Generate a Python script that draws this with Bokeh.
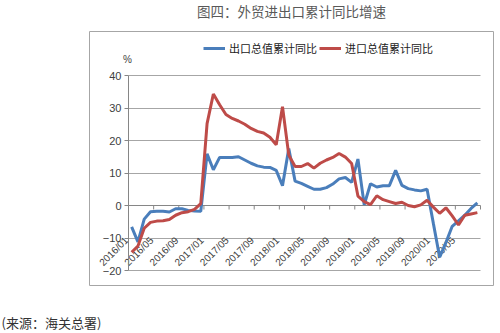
import math
from bokeh.plotting import figure
from bokeh.models import Range1d, FixedTicker, Legend, LegendItem, Title, Grid
from bokeh.embed import file_html
from bokeh.resources import INLINE
from bokeh.core.properties import value

# ---------------- data ----------------
years = ["2016", "2017", "2018", "2019", "2020"]
months = [f"{y}/{m:02d}" for y in years for m in range(1, 13)][:56]   # 2016/01 .. 2020/08

exports = [  # 出口总值累计同比 (%)
    -6.6, -11.2, -4.2, -1.9, -1.8, -1.8, -2.0, -1.0, -1.0, -1.5, -1.7, -1.8,
    15.9, 11.0, 14.8, 14.8, 14.8, 15.0, 14.0, 13.0, 12.2, 11.8, 11.7, 10.8,
    6.1, 17.5, 7.5, 6.8, 5.9, 5.0, 5.0, 5.5, 6.6, 8.2, 8.6, 7.1,
    14.3, 0.2, 6.7, 5.7, 6.1, 6.1, 10.8, 6.2, 5.2, 4.8, 4.5, 5.0,
    -5.5, -15.9, -11.4, -6.4, -4.7, -3.0, -0.9, 0.8,
]
imports = [  # 进口总值累计同比 (%)
    -14.4, -12.5, -7.0, -5.2, -4.8, -4.7, -4.3, -3.0, -2.2, -1.9, -1.2, 0.6,
    25.2, 34.3, 31.0, 28.0, 26.8, 26.0, 25.0, 23.7, 22.8, 22.3, 21.0, 18.7,
    30.4, 15.5, 12.0, 12.0, 12.9, 11.5, 13.0, 14.0, 14.8, 16.0, 14.9, 12.9,
    2.9, 1.2, 0.3, 3.0, 1.8, 1.2, 0.6, 1.0, 0.0, -0.4, 0.2, 1.6,
    -0.5, -2.4, -0.7, -3.2, -6.0, -3.0, -2.6, -2.2,
]
y_ticks = [-20, -10, 0, 10, 20, 30, 40]
label_step = 4

title_text = "图四：外贸进出口累计同比增速"
source_text = "(来源：海关总署)"
series_names = ["出口总值累计同比", "进口总值累计同比"]

# ---------------- layout (pixels) ----------------
W, H = 500, 333
BL, BR, BT, BB = 89, 493, 31, 285   # chart-area box = Bokeh frame
PL, PR = 128, 480                   # plot area left / right
P40, PM20 = 75, 270                 # pixel rows of y=40 and y=-20
N = len(months)
YMIN, YMAX = y_ticks[0], y_ticks[-1]
GRID = "#a6a6a6"
AXIS = "#868686"


def dx(px):
    return (px - PL) / (PR - PL) * N - 0.5


def dy(py):
    return YMAX - (py - P40) / (PM20 - P40) * (YMAX - YMIN)


idx = list(range(N))
X0, X1 = -0.5, N - 0.5

p = figure(width=W, height=H, output_backend="svg", toolbar_location=None,
           x_axis_location=None, y_axis_location="left",
           x_range=Range1d(dx(BL), dx(BR)), y_range=Range1d(dy(BB), dy(BT)),
           min_border_left=BL, min_border_right=W - BR,
           min_border_top=BT, min_border_bottom=H - BB,
           background_fill_color="white", border_fill_color="white",
           outline_line_color=GRID, outline_line_width=1)

# y axis, drawn at the plot-area's left edge
ax = p.yaxis[0]
ax.fixed_location = X0
ax.ticker = FixedTicker(ticks=y_ticks)
ax.bounds = (YMIN, YMAX)
ax.axis_line_color = AXIS
ax.major_tick_line_color = AXIS
ax.major_tick_out = 4
ax.major_tick_in = 0
ax.minor_tick_line_color = None
ax.major_label_standoff = 3
ax.major_label_text_font = "Liberation Sans"
ax.major_label_text_font_size = "11px"
ax.major_label_text_color = "#404040"

p.ygrid.ticker = FixedTicker(ticks=[t for t in y_ticks if t != 0])
p.ygrid.cross_bounds = (X0, X1)
p.ygrid.grid_line_color = GRID
p.xgrid.visible = False

# horizontal category axis line at y = 0
zero = Grid(dimension=1, ticker=FixedTicker(ticks=[0]), cross_bounds=(X0, X1),
            grid_line_color=AXIS, grid_line_width=1)
p.add_layout(zero)

# category tick marks on the zero line
bounds = [k - 0.5 for k in range(0, N + 1, label_step)]
tick_len = 4 / (PM20 - P40) * (YMAX - YMIN)
p.segment(x0=bounds, y0=[0] * len(bounds), x1=bounds, y1=[-tick_len] * len(bounds),
          line_color=AXIS, line_width=1)

# category labels (rotated, hanging below zero line)
lab_idx = list(range(0, N, label_step))
lab_x = [k - 0.5 - 2.0 / (PR - PL) * N for k in lab_idx]
p.text(x=lab_x, y=[dy(238)] * len(lab_idx), text=[months[k] for k in lab_idx],
       angle=math.pi / 4, text_align="right", text_baseline="middle",
       text_font=value("Liberation Sans"), text_font_size="10px", text_color="#404040")

# "%" unit label
p.text(x=[dx(127)], y=[dy(59)], text=["%"], text_align="center", text_baseline="middle",
       text_font=value("Liberation Sans"), text_font_size="10px", text_color="#404040")

# series
rb = p.line(idx, exports, line_color="#4a7ebb", line_width=3)
rr = p.line(idx, imports, line_color="#be4b48", line_width=3)

legend = Legend(items=[LegendItem(label=series_names[0], renderers=[rb]),
                       LegendItem(label=series_names[1], renderers=[rr])],
                orientation="horizontal", location=(203 - BL, BB - 56),
                label_text_font="Noto Sans CJK SC", label_text_font_size="11px",
                label_text_color="#222222", glyph_width=22, glyph_height=16,
                label_standoff=4, spacing=2, padding=0, margin=0,
                border_line_color=None, background_fill_alpha=0)
p.add_layout(legend, "center")

p.title.text = title_text
p.title.align = "center"
p.title.vertical_align = "top"
p.title.offset = 307 - (BL + BR) / 2
p.title.standoff = 0
p.title.text_font = "Noto Sans CJK SC"
p.title.text_font_size = "13.5px"
p.title.text_font_style = "normal"
p.title.text_color = "#595959"

# small spacer between the chart box and the title
p.add_layout(Title(text=" ", text_font_size="1px", standoff=6), "above")

# spacer between the chart box and the source note
p.add_layout(Title(text=" ", text_font_size="1px", standoff=22), "below")
p.add_layout(Title(text=source_text, align="left", offset=1 - BL, standoff=0,
                   text_font="Noto Sans CJK SC",
                   text_font_size="13px", text_font_style="normal",
                   text_color="#333333"), "below")

open("out.html", "w").write(file_html(p, INLINE))
